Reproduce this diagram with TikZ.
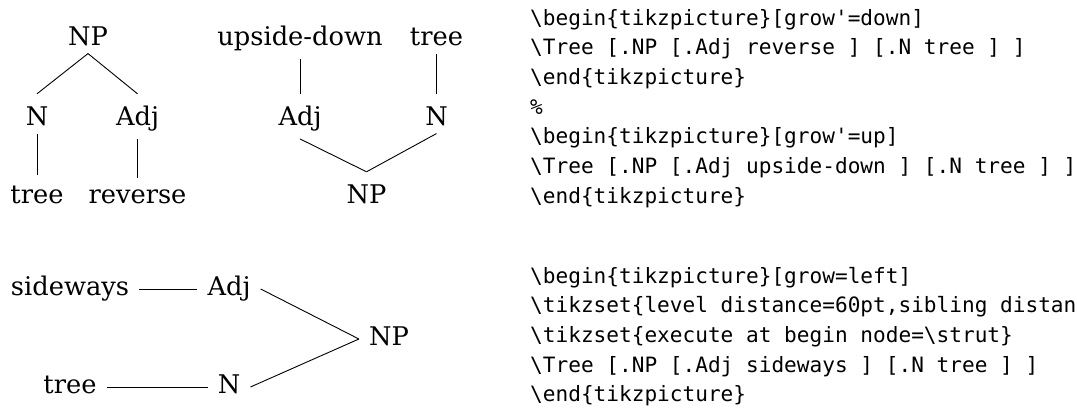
\documentclass[tikz,border=0pt]{standalone}
\usepackage{fontspec}
\setmainfont{DejaVu Serif}
\setmonofont{DejaVu Sans Mono}
\begin{document}
\begin{tikzpicture}[x=1pt,y=-1pt,
  lbl/.style={font=\fontsize{25.7}{30.8}\selectfont, anchor=base, inner xsep=4pt, inner ysep=8pt},
  capnode/.style={text height=23pt},
  sidelbl/.style={font=\fontsize{25.7}{30}\selectfont, anchor=base, inner xsep=10pt, inner ysep=0pt,
                  execute at begin node=\strut},
  branch/.style={draw=black, line width=0.9pt},
  codeline/.style={font=\fontsize{21.1}{25}\selectfont\ttfamily, anchor=base west, inner sep=0pt}]
\useasboundingbox (0,0) rectangle (1077,410);
\begin{scope}
\clip (0,0) rectangle (1077,410);

% tree growing down
\node[lbl,capnode] (a-np)  at (88,45)    {NP};
\node[lbl,capnode] (a-n)   at (37,125)   {N};
\node[lbl,capnode] (a-adj) at (137.5,125) {Adj};
\node[lbl,text height=20pt] (a-tree) at (37,203)    {tree};
\node[lbl,text height=17pt] (a-rev)  at (137.5,203) {reverse};
\draw[branch] (a-np.south) -- (a-n.north);
\draw[branch] (a-np.south) -- (a-adj.north);
\draw[branch] (a-n.south) -- (a-tree.north);
\draw[branch] (a-adj.south) -- (a-rev.north);

% tree growing up
\node[lbl] (b-ud)   at (300,45)   {upside-down};
\node[lbl] (b-tree) at (436.5,45) {tree};
\node[lbl,capnode] (b-adj) at (300,125)   {Adj};
\node[lbl,capnode] (b-n)   at (436.5,125) {N};
\node[lbl,capnode] (b-np)  at (366.5,203) {NP};
\draw[branch] (b-np.north) -- (b-adj.south);
\draw[branch] (b-np.north) -- (b-n.south);
\draw[branch] (b-adj.north) -- (b-ud.south);
\draw[branch] (b-n.north) -- (b-tree.south);

% tree growing left
\node[sidelbl] (c-side) at (70,295)  {sideways};
\node[sidelbl] (c-adj)  at (229,295) {Adj};
\node[sidelbl] (c-np)   at (389,345) {NP};
\node[sidelbl] (c-n)    at (229,393) {N};
\node[sidelbl] (c-tree) at (70,393)  {tree};
\draw[branch] (c-np.west) -- (c-adj.east);
\draw[branch] (c-np.west) -- (c-n.east);
\draw[branch] (c-adj.west) -- (c-side.east);
\draw[branch] (c-n.west) -- (c-tree.east);

% source listing
\node[codeline] (l1) at (530,25)    {\textbackslash begin\{tikzpicture\}[grow'=down]};
\node[codeline] (l2) at (530,54.7)  {\textbackslash Tree [.NP [.Adj reverse ] [.N tree ] ]};
\node[codeline] (l3) at (530,84.4)  {\textbackslash end\{tikzpicture\}};
\node[codeline] (l4) at (530,114.1) {\%};
\node[codeline] (l5) at (530,143.8) {\textbackslash begin\{tikzpicture\}[grow'=up]};
\node[codeline] (l6) at (530,173.5) {\textbackslash Tree [.NP [.Adj upside-down ] [.N tree ] ]};
\node[codeline] (l7) at (530,203.2) {\textbackslash end\{tikzpicture\}};

\node[codeline] (m1) at (530,283)   {\textbackslash begin\{tikzpicture\}[grow=left]};
\node[codeline] (m2) at (530,312.7) {\textbackslash tikzset\{level distance=60pt,sibling distance};
\node[codeline] (m3) at (530,342.4) {\textbackslash tikzset\{execute at begin node=\textbackslash strut\}};
\node[codeline] (m4) at (530,372.1) {\textbackslash Tree [.NP [.Adj sideways ] [.N tree ] ]};
\node[codeline] (m5) at (530,401.8) {\textbackslash end\{tikzpicture\}};
\end{scope}
\end{tikzpicture}
\end{document}
